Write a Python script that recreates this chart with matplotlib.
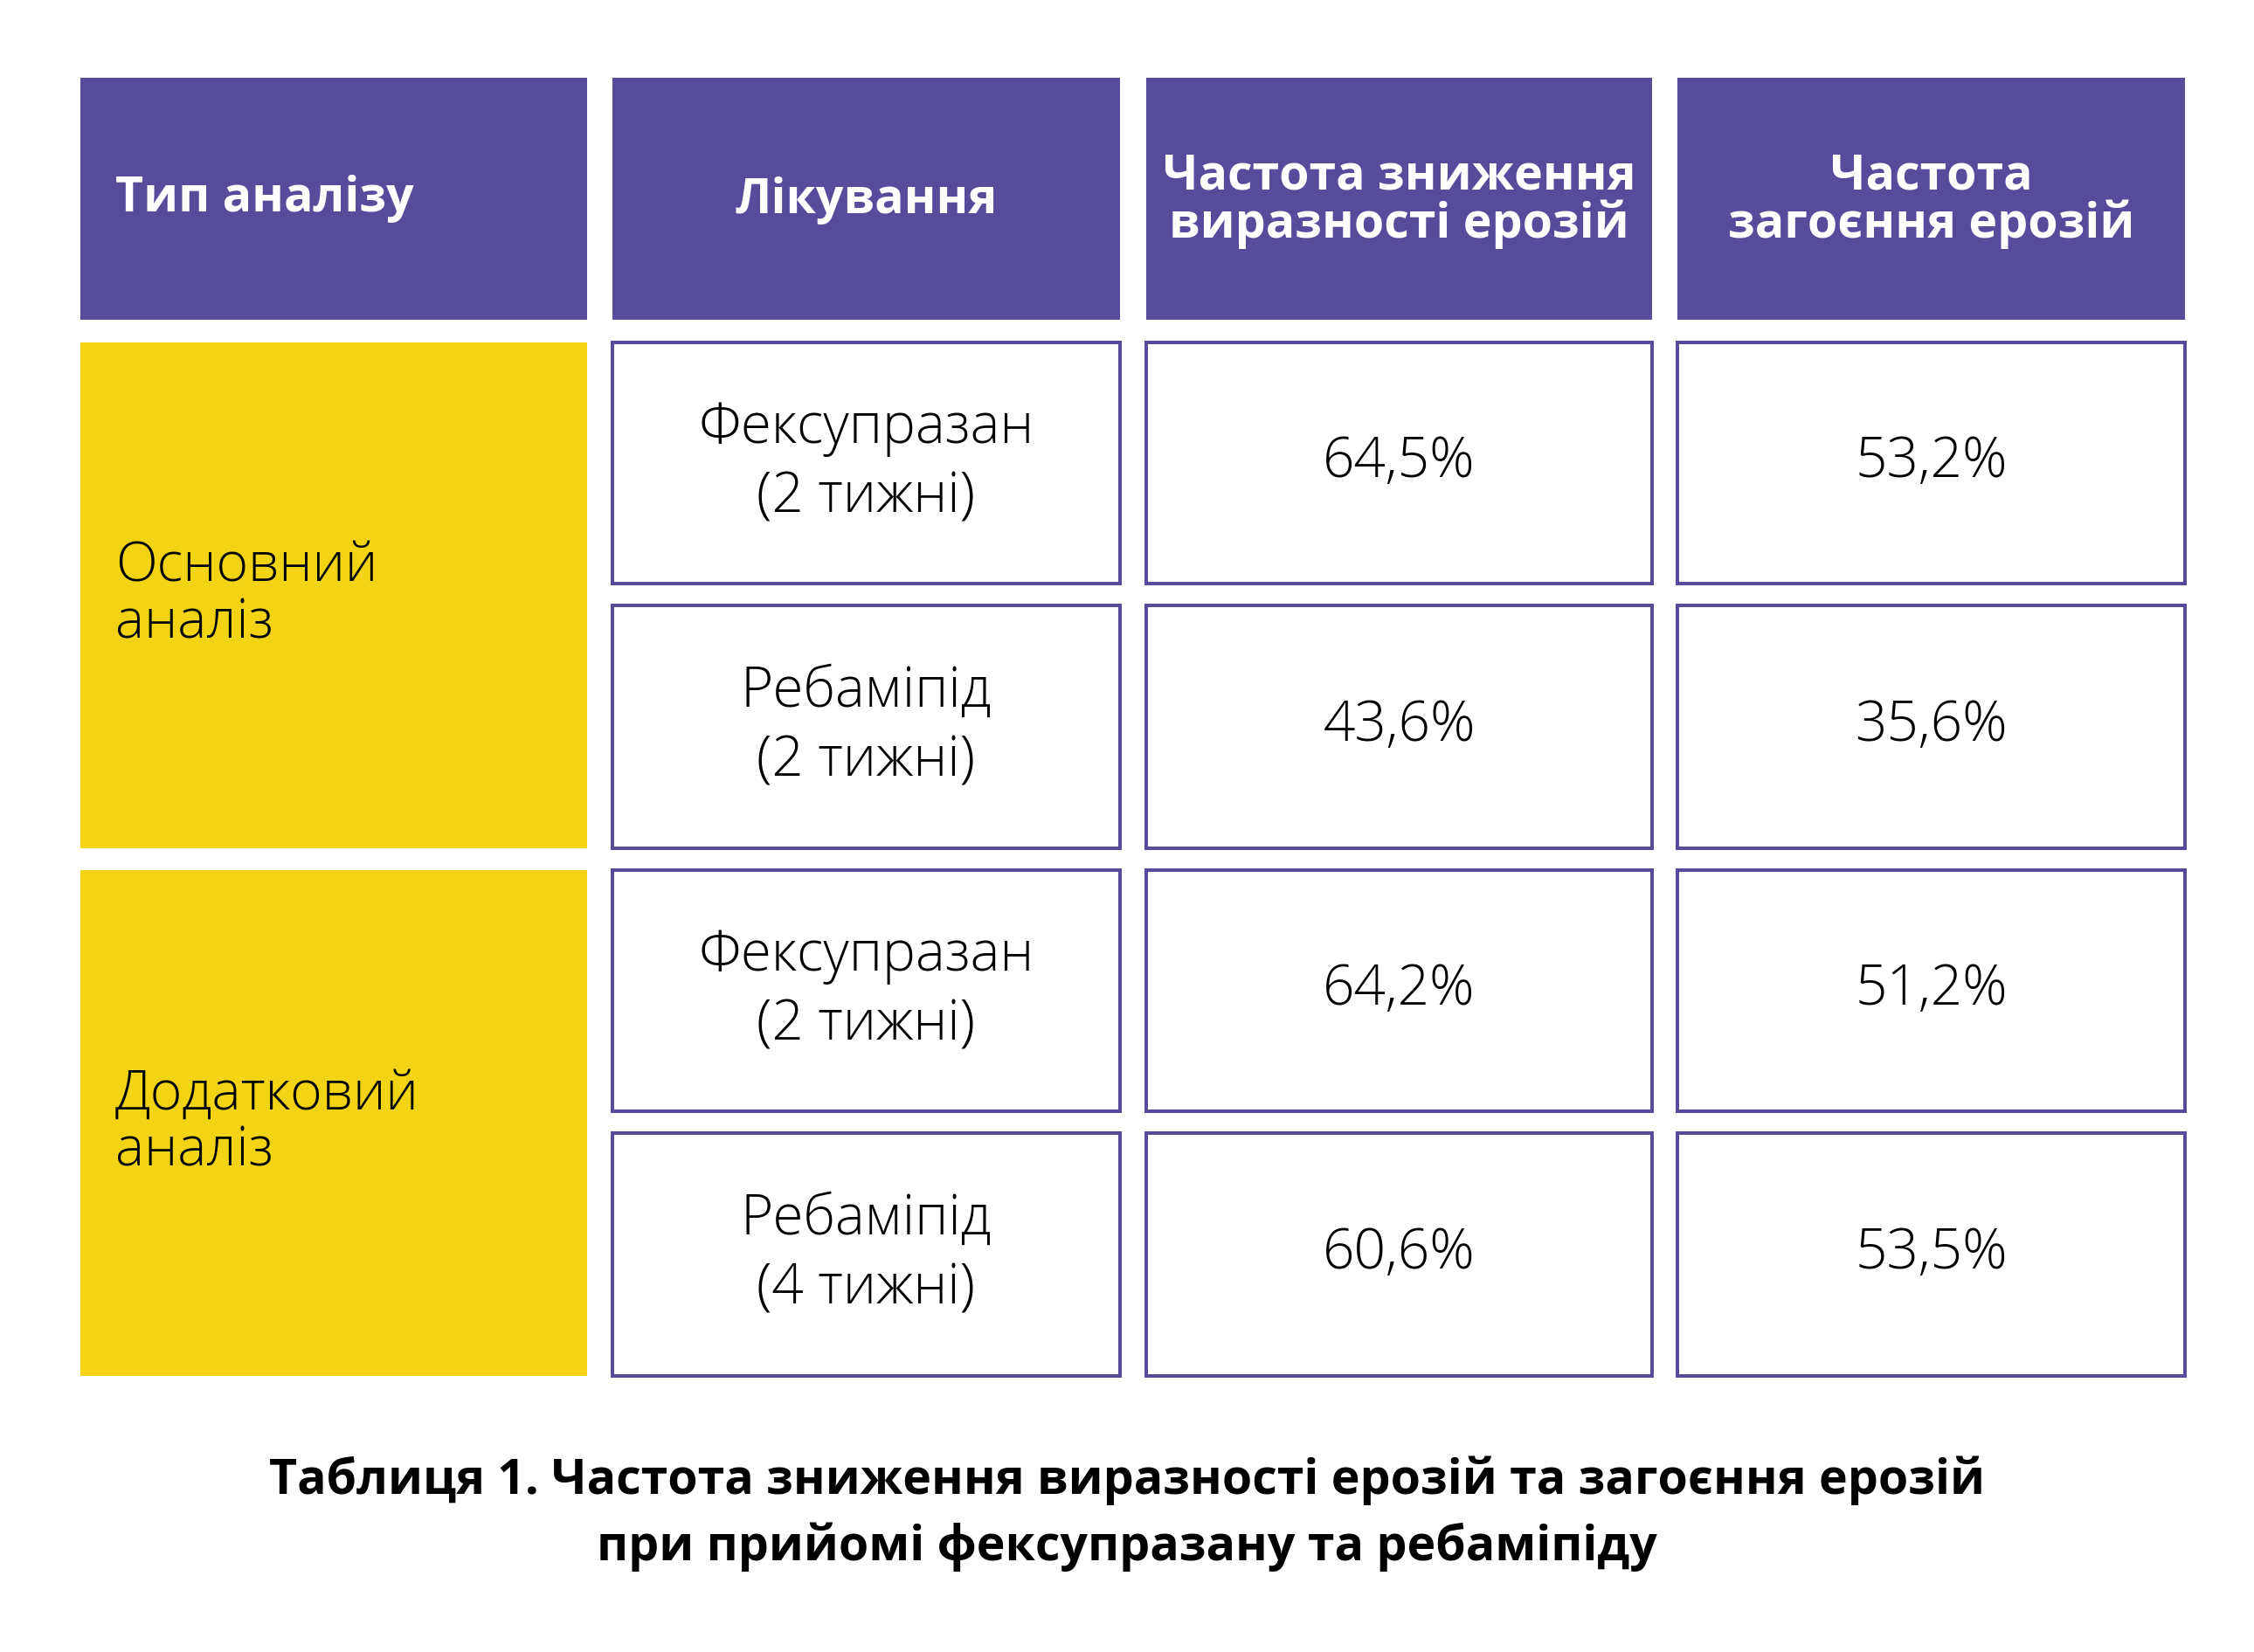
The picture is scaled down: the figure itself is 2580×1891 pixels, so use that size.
import matplotlib
matplotlib.use("Agg")
import matplotlib.pyplot as plt
from matplotlib.patches import Rectangle

# ---------------- data ----------------
headers = ["Тип аналізу", "Лікування",
           "Частота зниження\nвиразності ерозій", "Частота\nзагоєння ерозій"]
analysis_types = ["Основний\nаналіз", "Додатковий\nаналіз"]
treatments = ["Фексупразан\n(2 тижні)", "Ребаміпід\n(2 тижні)",
              "Фексупразан\n(2 тижні)", "Ребаміпід\n(4 тижні)"]
reduction_rate = [64.5, 43.6, 64.2, 60.6]
healing_rate = [53.2, 35.6, 51.2, 53.5]
caption = ("Таблиця 1. Частота зниження виразності ерозій та загоєння ерозій\n"
           "при прийомі фексупразану та ребаміпіду")

# ---------------- style / layout ----------------
PURPLE = "#574c9c"
YELLOW = "#f2d414"
W, H = 2580, 1891
col_edges = [(92, 672), (701, 1282), (1312, 1891), (1920, 2501)]
header_y = (89, 366)
row_edges = [(392, 668), (693, 971), (996, 1272), (1297, 1575)]
group_edges = [(392, 971), (996, 1575)]

LIGHT = dict(family=["Open Sans", "DejaVu Sans"], weight=300)
BOLD = dict(family=["Open Sans", "DejaVu Sans"], weight="bold")

fig = plt.figure(figsize=(W / 100, H / 100), dpi=100)
ax = fig.add_axes([0, 0, 1, 1])
ax.set_xlim(0, W)
ax.set_ylim(H, 0)
ax.axis("off")

# header
for i, (x0, x1) in enumerate(col_edges):
    ax.add_patch(Rectangle((x0, header_y[0]), x1 - x0, header_y[1] - header_y[0],
                           facecolor=PURPLE, edgecolor="none"))
    yc = (header_y[0] + header_y[1]) / 2
    if i == 0:
        ax.text(x0 + 40, yc, headers[i], color="white", fontsize=40, ha="left",
                va="center", linespacing=0.95, **BOLD)
    else:
        ax.text((x0 + x1) / 2, yc + 2, headers[i], color="white", fontsize=40,
                ha="center", va="center", multialignment="center",
                linespacing=0.97, **BOLD)

# analysis type cells (yellow)
x0, x1 = col_edges[0]
for label, (y0, y1) in zip(analysis_types, group_edges):
    ax.add_patch(Rectangle((x0, y0), x1 - x0, y1 - y0, facecolor=YELLOW,
                           edgecolor="none"))
    ax.text(x0 + 40, (y0 + y1) / 2, label, fontsize=45, ha="left", va="center",
            linespacing=1.03, color="black", **LIGHT)

# body cells
def fmt(v):
    return f"{v:.1f}".replace(".", ",") + "%"

for r, (y0, y1) in enumerate(row_edges):
    cells = [treatments[r], fmt(reduction_rate[r]), fmt(healing_rate[r])]
    for c, txt in enumerate(cells, start=1):
        cx0, cx1 = col_edges[c]
        ax.add_patch(Rectangle((cx0, y0), cx1 - cx0, y1 - y0, facecolor="white",
                               edgecolor=PURPLE, linewidth=2.9))
        ax.text((cx0 + cx1) / 2, (y0 + y1) / 2, txt, fontsize=46, ha="center",
                va="center", multialignment="center", linespacing=1.3,
                color="black", **LIGHT)

# caption
ax.text(W / 2, 1733, caption, fontsize=40, ha="center", va="center",
        multialignment="center", linespacing=1.45, color="black", **BOLD)

fig.savefig("out.png", dpi=100, facecolor="white")
